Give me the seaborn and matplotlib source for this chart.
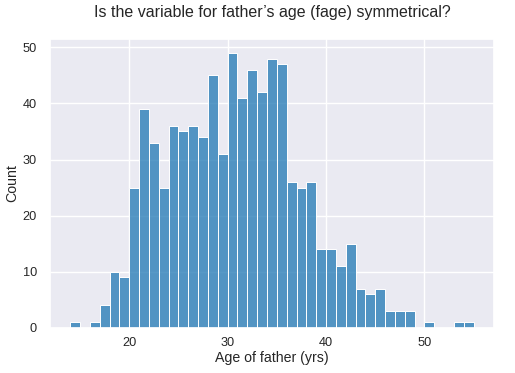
import matplotlib
matplotlib.use("Agg")
import matplotlib.pyplot as plt
import pandas as pd
import seaborn as sns

# father's age (yrs) and number of births per 1-year bin
ages = list(range(14, 55))
counts = [1, 0, 1, 4, 10, 9, 25, 39, 33, 25, 36, 35, 36, 34, 45, 31, 49, 41, 46, 42,
          48, 47, 26, 25, 26, 14, 14, 11, 15, 7, 6, 7, 3, 3, 3, 0, 1, 0, 0, 1, 1]

df = pd.DataFrame({"fage": ages, "n": counts})

sns.set_theme(style="darkgrid")
plt.rcParams["font.family"] = ["Liberation Sans", "DejaVu Sans"]
xpad = plt.rcParams["xtick.major.pad"]
lpad = plt.rcParams["axes.labelpad"]

fig, ax = plt.subplots(figsize=(5.15, 3.73), dpi=100)
fig.subplots_adjust(left=0.097, right=0.959, top=0.895, bottom=0.121)
sns.histplot(data=df, x="fage", weights="n", binwidth=1, binrange=(14, 55),
             color="#1f77b4", ax=ax)
ax.set_xlabel("Age of father (yrs)", fontsize=10.2, labelpad=lpad - 2.5)
ax.set_ylabel("Count", fontsize=10.2, labelpad=lpad - 1.5)
ax.tick_params(labelsize=9.2)
ax.tick_params(axis="x", pad=xpad - 3)
ax.set_title("Is the variable for father\u2019s age (fage) symmetrical?", fontsize=11.5, pad=15.6)

plt.savefig("out.png", dpi=100)
